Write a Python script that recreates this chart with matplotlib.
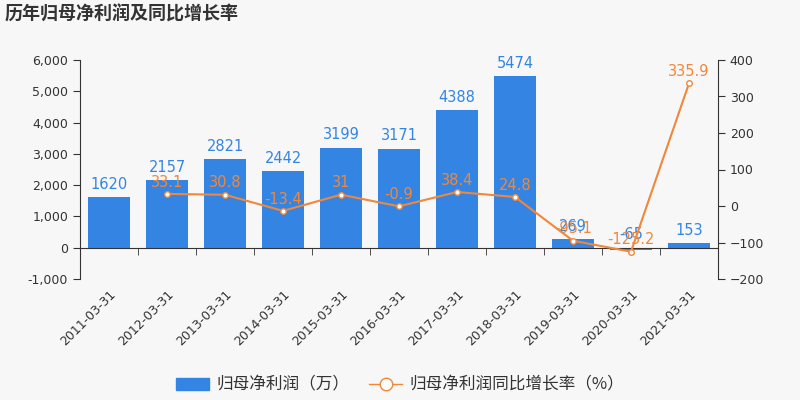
import numpy as np
import matplotlib.pyplot as plt
from matplotlib.lines import Line2D
from matplotlib.patches import FancyBboxPatch

plt.rcParams['font.family'] = ['DejaVu Sans', 'Noto Sans CJK SC']

dates = ['2011-03-31', '2012-03-31', '2013-03-31', '2014-03-31', '2015-03-31',
         '2016-03-31', '2017-03-31', '2018-03-31', '2019-03-31', '2020-03-31',
         '2021-03-31']
profit = [1620, 2157, 2821, 2442, 3199, 3171, 4388, 5474, 269, -65, 153]
growth = [None, 33.1, 30.8, -13.4, 31, -0.9, 38.4, 24.8, -95.1, -125.2, 335.9]

blue = '#3485e3'
orange = '#f0873a'
bg = '#f7f7f7'
txt = '#333333'

fig = plt.figure(figsize=(8, 4), dpi=100, facecolor=bg)
ax = fig.add_axes([0.1, 0.3025, 0.7975, 0.5475], facecolor=bg)
ax2 = ax.twinx()

# spine position first: it resets the ticks
ax.spines['bottom'].set_position(('data', 0))
ax.spines['top'].set_visible(False)
ax.spines['right'].set_visible(False)
for s in ['left', 'bottom']:
    ax.spines[s].set_color(txt)

x = np.arange(len(dates))
ax.bar(x, profit, width=0.71, color=blue, zorder=2)
for i, v in enumerate(profit):
    ax.text(i, max(v, 0) + 170, str(v), ha='center', va='bottom', color=blue, fontsize=10.5)

ax.set_ylim(-1000, 6000)
ax.set_yticks(range(-1000, 6001, 1000))
ax.set_yticklabels(['{:,}'.format(t) for t in range(-1000, 6001, 1000)])
ax.set_xlim(-0.5, len(dates) - 0.5)

# labels at centres, tick marks at category boundaries
ax.set_xticks(x)
ax.set_xticklabels(dates, fontsize=9, color=txt, rotation=45, ha='right',
                   rotation_mode='anchor')
ax.set_xticks(np.arange(-0.5, len(dates), 1), minor=True)
ax.tick_params(axis='x', which='major', length=0, pad=29)
ax.tick_params(axis='x', which='minor', length=5, color=txt)
ax.tick_params(axis='y', colors=txt, labelsize=9, length=5)

gx = [i for i, g in enumerate(growth) if g is not None]
gy = [g for g in growth if g is not None]
ax2.plot(gx, gy, color=orange, lw=1.5, marker='o', ms=4, mfc='white', mec=orange, zorder=3)
for i, g in zip(gx, gy):
    ax2.text(i, g + 12, '{:g}'.format(g), ha='center', va='bottom', color=orange, fontsize=10.5)
ax2.set_ylim(-200, 400)
ax2.set_yticks(range(-200, 401, 100))
ax2.tick_params(axis='y', colors=txt, labelsize=9, length=5)
for s in ['top', 'left', 'bottom']:
    ax2.spines[s].set_visible(False)
ax2.spines['right'].set_color(txt)
ax.set_zorder(ax2.get_zorder() - 1)
ax2.patch.set_visible(False)

fig.text(0.006, 0.965, '历年归母净利润及同比增长率', fontsize=13, color=txt,
         fontweight='bold', ha='left', va='center', family=['Noto Sans CJK SC', 'DejaVu Sans'])

handles = [FancyBboxPatch((0, 0), 1, 1, boxstyle='round,pad=0.1', color=blue),
           Line2D([], [], color=orange, marker='o', ms=9, mfc='white', mec=orange, lw=1)]
fig.legend(handles, ['归母净利润（万）', '归母净利润同比增长率（%）'], loc='center',
           bbox_to_anchor=(0.5, 0.037), ncol=2, frameon=False,
           labelcolor=txt, handlelength=2.0, columnspacing=1.2, handletextpad=0.4,
           prop={'family': ['Noto Sans CJK SC', 'DejaVu Sans'], 'size': 12})

fig.savefig('out.png', dpi=100, facecolor=bg)
